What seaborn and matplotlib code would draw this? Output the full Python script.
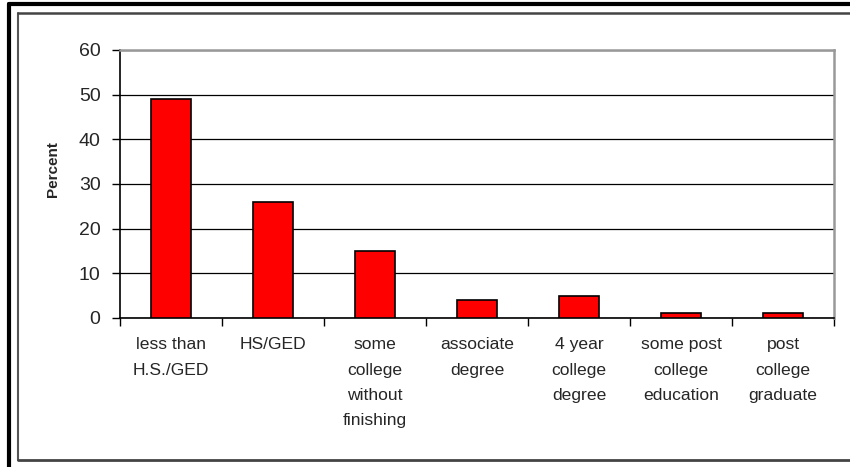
import matplotlib
matplotlib.use("Agg")
import matplotlib.pyplot as plt
from matplotlib.lines import Line2D
import pandas as pd
import seaborn as sns

# Data
categories = [
    "less than\nH.S./GED",
    "HS/GED",
    "some\ncollege\nwithout\nfinishing",
    "associate\ndegree",
    "4 year\ncollege\ndegree",
    "some post\ncollege\neducation",
    "post\ncollege\ngraduate",
]
percent = [49, 26, 15, 4, 5, 1.2, 1.2]
y_ticks = [0, 10, 20, 30, 40, 50, 60]

df = pd.DataFrame({"category": categories, "percent": percent})

sns.set_style("white")
plt.rcParams["font.family"] = ["Liberation Sans", "DejaVu Sans"]

fig = plt.figure(figsize=(8.5, 4.67), dpi=100)
ax = fig.add_axes([120 / 850, 1 - 318 / 467, (834 - 120) / 850, (318 - 50) / 467])

sns.barplot(data=df, x="category", y="percent", ax=ax, color="#ff0000",
            saturation=1, width=0.4, edgecolor="black", linewidth=1.2, zorder=3)

ax.set_ylim(0, 60)
ax.set_xlim(-0.5, len(categories) - 0.5)
ax.set_yticks(y_ticks)
ax.yaxis.grid(True, color="black", linewidth=0.9, zorder=0)
ax.set_axisbelow(True)

# x ticks sit between categories, labels centred under bars
ax.set_xticks([i - 0.5 for i in range(len(categories) + 1)], minor=True)
ax.tick_params(axis="x", which="major", length=0, pad=14, labelsize=12.6)
ax.tick_params(axis="x", which="minor", length=6, width=1, color="black", direction="out", bottom=True)
ax.tick_params(axis="y", length=6, width=1, color="black", direction="out", left=True, pad=8, labelsize=14)
for lab in ax.get_xticklabels():
    lab.set_linespacing(1.85)
    lab.set_verticalalignment("top")

ax.set_xlabel("")
ax.set_ylabel("Percent", fontsize=11, fontweight="bold")
ax.yaxis.set_label_coords(-0.084, 0.556)

for side in ["left", "bottom"]:
    ax.spines[side].set_color("black")
    ax.spines[side].set_linewidth(1.2)
for side in ["top", "right"]:
    ax.spines[side].set_visible(True)
    ax.spines[side].set_color("#999999")
    ax.spines[side].set_linewidth(1.8)

# outer chart frames
W, H = 850, 467
fig.add_artist(Line2D([8.5 / W, 8.5 / W], [0, 1 - 4 / H], color="black", lw=3))
fig.add_artist(Line2D([8.5 / W, 1], [1 - 4 / H, 1 - 4 / H], color="black", lw=3))
fig.add_artist(Line2D([18 / W, 18 / W], [1 - 460 / H, 1 - 13 / H], color="#555555", lw=1.5))
fig.add_artist(Line2D([18 / W, 1], [1 - 13 / H, 1 - 13 / H], color="#444444", lw=1.8))
fig.add_artist(Line2D([18 / W, 1], [1 - 460 / H, 1 - 460 / H], color="#444444", lw=2))

fig.savefig("out.png", dpi=100)
